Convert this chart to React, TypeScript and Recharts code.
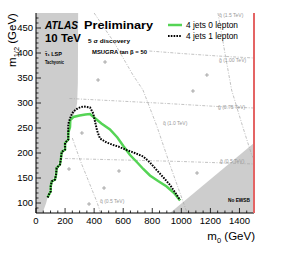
import React from 'react';
import { ComposedChart, Line, Area, Scatter, XAxis, YAxis } from 'recharts';

const FONT = "'Liberation Sans', Arial, Helvetica, sans-serif";

// Axis ranges and ticks
const X_DOMAIN = [0, 1500];
const Y_DOMAIN = [80, 480];
const X_TICKS = [0, 50, 100, 150, 200, 250, 300, 350, 400, 450, 500, 550, 600, 650, 700, 750, 800, 850, 900, 950, 1000, 1050, 1100, 1150, 1200, 1250, 1300, 1350, 1400, 1450];
const X_LABELS = [0, 200, 400, 600, 800, 1000, 1200, 1400];
const Y_TICKS = [90, 100, 110, 120, 130, 140, 150, 160, 170, 180, 190, 200, 210, 220, 230, 240, 250, 260, 270, 280, 290, 300, 310, 320, 330, 340, 350, 360, 370, 380, 390, 400, 410, 420, 430, 440, 450, 460, 470];
const Y_LABELS = [100, 150, 200, 250, 300, 350, 400, 450];

// 5 sigma discovery contours (m0, m1/2)
const jets0Lepton: [number, number][] = [
  [80, 111], [89, 117], [101, 123], [101, 133], [108, 143], [131, 147], [138, 157], [142, 170], [165, 177], [172, 190],
  [177, 202], [200, 207], [200, 220], [222, 227], [222, 240], [234, 252], [236, 266], [257, 272], [300, 275], [340, 277],
  [372, 278], [400, 271], [450, 259], [509, 247], [560, 231], [601, 214], [647, 196], [700, 180], [738, 168], [784, 155],
  [840, 144], [899, 133], [950, 120], [991, 105],
];
const jets1Lepton: [number, number][] = [
  [80, 111], [89, 117], [101, 123], [101, 133], [108, 143], [131, 147], [138, 157], [142, 170], [165, 177], [172, 190],
  [177, 202], [200, 207], [200, 220], [222, 227], [222, 240], [222, 258], [240, 274], [257, 283], [290, 290], [326, 293],
  [372, 291], [394, 279], [406, 263], [420, 245], [440, 229], [486, 221], [532, 216], [566, 213], [624, 206], [680, 200],
  [738, 193], [784, 181], [830, 166], [880, 150], [922, 136], [960, 120], [991, 106],
];

// excluded regions: [m0, lower m1/2, upper m1/2]
const tachyonicRegion: [number, number, number][] = [
  [0, 80, 480], [45, 80, 480], [70, 100, 480], [88, 120, 480], [95, 135, 480], [120, 148, 480], [133, 165, 480],
  [155, 180, 480], [168, 195, 480], [190, 210, 480], [212, 228, 480], [222, 250, 480], [232, 266, 480], [255, 275, 480],
  [272, 284, 480], [283, 300, 480], [288, 340, 480], [290, 480, 480],
];
const noEwsbRegion: [number, number, number][] = [
  [922, 80, 80], [1500, 80, 220],
];

// iso-mass contours
const squark15: [number, number][] = [[1252, 480], [1300, 400], [1346, 326], [1420, 255], [1484, 196], [1500, 188]];
const gluino100: [number, number][] = [[780, 404], [1000, 399], [1250, 394], [1500, 390]];
const gluino075: [number, number][] = [[230, 309], [500, 305], [900, 299], [1250, 293], [1500, 290]];
const gluino050: [number, number][] = [[200, 189], [600, 186], [1000, 183], [1300, 180], [1500, 178]];
const squark10: [number, number][] = [[400, 480], [540, 420], [667, 356], [736, 326], [830, 255], [922, 176], [1040, 80]];
const squark05: [number, number][] = [[250, 230], [303, 186], [360, 145], [418, 103], [445, 80]];

const scanPoints: [number, number][] = [
  [475, 382], [427, 346], [1176, 356], [1080, 324], [227, 168], [468, 130], [365, 98], [571, 164], [1108, 160], [316, 240],
];

const toXY = (a: [number, number][]) => a.map(([x, y]) => ({ x, y }));
const toRange = (a: [number, number, number][]) => a.map(([x, lo, hi]) => ({ x, r: [lo, hi] }));

const GREEN = '#55d455';
const GREY = '#a8a8a8';
const RED = '#e46464';
const SHADE = '#cdcdcd';

function BottomTick(props: any) {
  const { x, y, payload } = props;
  const v = payload.value;
  const major = X_LABELS.includes(v);
  return (
    <g>
      <line x1={x} y1={y} x2={x} y2={y - (major ? 5 : 2.5)} stroke="#000" strokeWidth={0.8} />
      {major && (
        <text x={x} y={y + 10.5} textAnchor="middle" fontSize={9.5} fontFamily={FONT} fill="#000">{v}</text>
      )}
    </g>
  );
}
function TopTick(props: any) {
  const { x, y, payload } = props;
  const major = X_LABELS.includes(payload.value);
  return <line x1={x} y1={y} x2={x} y2={y + (major ? 5 : 2.5)} stroke="#000" strokeWidth={0.8} />;
}
function LeftTick(props: any) {
  const { x, y, payload } = props;
  const v = payload.value;
  const major = Y_LABELS.includes(v);
  return (
    <g>
      <line x1={x} y1={y} x2={x + (major ? 5 : 2.5)} y2={y} stroke="#000" strokeWidth={0.8} />
      {major && (
        <text x={x - 3} y={y + 3.4} textAnchor="end" fontSize={9.5} fontFamily={FONT} fill="#000">{v}</text>
      )}
    </g>
  );
}
function RightTick(props: any) {
  const { x, y, payload } = props;
  const major = Y_LABELS.includes(payload.value);
  return <line x1={x - 1} y1={y} x2={x - 1 - (major ? 5 : 2.5)} y2={y} stroke="#000" strokeWidth={0.8} />;
}

function PlusShape(props: any) {
  const { cx, cy } = props;
  return (
    <g stroke="#8c8c8c" strokeWidth={0.7}>
      <line x1={cx - 2} y1={cy} x2={cx + 2} y2={cy} />
      <line x1={cx} y1={cy - 2} x2={cx} y2={cy + 2} />
    </g>
  );
}

function Overlay() {
  const small = { fontFamily: FONT, fontSize: 5.5, fontWeight: 700, fill: '#000' } as const;
  const grey = { fontFamily: FONT, fontSize: 5, fill: '#999' } as const;
  return (
    <svg width={300} height={255} style={{ position: 'absolute', left: 0, top: 0, pointerEvents: 'none' }}>
      <line x1={254} y1={13} x2={254} y2={213} stroke={RED} strokeWidth={2} />
      <text x={45} y={29.3} fontFamily={FONT} fontSize={10.5} fontWeight={700} fontStyle="italic" textLength={33} lengthAdjust="spacingAndGlyphs">ATLAS</text>
      <text x={84} y={29.3} fontFamily={FONT} fontSize={11} fontWeight={700} textLength={69} lengthAdjust="spacingAndGlyphs">Preliminary</text>
      <text x={45} y={42} fontFamily={FONT} fontSize={10.5} fontWeight={700} textLength={36} lengthAdjust="spacingAndGlyphs">10 TeV</text>
      <text x={88} y={42.5} {...small} textLength={42} lengthAdjust="spacingAndGlyphs">5 σ discovery</text>
      <text x={92} y={53.5} {...small} textLength={55} lengthAdjust="spacingAndGlyphs">MSUGRA tan β = 50</text>
      <text x={45} y={55.5} {...small}>τ̃₁ LSP</text>
      <text x={45} y={63.5} {...small} textLength={19} lengthAdjust="spacingAndGlyphs">Tachyonic</text>
      <text x={228} y={201.5} {...small} textLength={22} lengthAdjust="spacingAndGlyphs">No EWSB</text>

      <line x1={168} y1={25} x2={182} y2={25} stroke={GREEN} strokeWidth={2.5} />
      <text x={186} y={28.4} fontFamily={FONT} fontSize={9} fill="#000" textLength={52} lengthAdjust="spacingAndGlyphs">4 jets 0 lepton</text>
      <line x1={168} y1={36} x2={182} y2={36} stroke="#000" strokeWidth={2} strokeDasharray="1.6 1.2" />
      <text x={186} y={39.4} fontFamily={FONT} fontSize={9} fill="#000" textLength={52} lengthAdjust="spacingAndGlyphs">4 jets 1 lepton</text>

      <text x={219} y={16.5} {...grey}>q̃ (1.5 TeV)</text>
      <text x={219} y={62} {...grey}>g̃ (1.00 TeV)</text>
      <text x={218} y={108.5} {...grey}>g̃ (0.75 TeV)</text>
      <text x={163} y={125} {...grey}>q̃ (1.0 TeV)</text>
      <text x={100} y={203} {...grey}>q̃ (0.5 TeV)</text>
      <text x={220} y={163} {...grey}>g̃ (0.5 TeV)</text>

      <text x={255} y={240} textAnchor="end" fontFamily={FONT} fontSize={11.5} fill="#000">
        m<tspan fontSize={7.5} dy={3}>0</tspan><tspan dy={-3}> (GeV)</tspan>
      </text>
      <text x={16} y={40} textAnchor="middle" fontFamily={FONT} fontSize={11.5} fill="#000" transform="rotate(-90, 16, 40)">
        m<tspan fontSize={7.5} dy={3}>1/2</tspan><tspan dy={-3}> (GeV)</tspan>
      </text>
    </svg>
  );
}

const contourProps = { stroke: GREY, strokeWidth: 0.7, strokeDasharray: '3 1.5 1 1.5', dot: false, isAnimationActive: false } as const;

export default function App() {
  return (
    <div style={{ position: 'absolute', left: 0, top: 0, width: 300, height: 255, background: '#fff' }}>
      <div style={{ position: 'absolute', left: 0, top: 0 }}>
        <ComposedChart width={300} height={255} margin={{ top: 13, right: 46, bottom: 0, left: 0 }}>
          <XAxis dataKey="x" type="number" domain={X_DOMAIN} ticks={X_TICKS} interval={0} allowDataOverflow
            height={42} tickSize={0} tickMargin={0} tickLine={false} tick={<BottomTick />} stroke="#000" axisLine={{ stroke: '#000', strokeWidth: 1 }} />
          <XAxis xAxisId="top" orientation="top" dataKey="x" type="number" domain={X_DOMAIN} ticks={X_TICKS} interval={0} allowDataOverflow
            height={0} tickSize={0} tickMargin={0} tickLine={false} tick={<TopTick />} stroke="#000" axisLine={{ stroke: '#000', strokeWidth: 1 }} />
          <YAxis type="number" domain={Y_DOMAIN} ticks={Y_TICKS} interval={0} allowDataOverflow
            width={36} tickSize={0} tickMargin={0} tickLine={false} tick={<LeftTick />} stroke="#000" axisLine={{ stroke: '#000', strokeWidth: 1 }} />
          <YAxis yAxisId="right" orientation="right" type="number" domain={Y_DOMAIN} ticks={Y_TICKS} interval={0} allowDataOverflow
            width={0} tickSize={0} tickMargin={0} tickLine={false} tick={<RightTick />} stroke={RED} axisLine={false} />

          <Area data={toRange(tachyonicRegion)} dataKey="r" type="linear" stroke="none" fill={SHADE} fillOpacity={1} isAnimationActive={false} />
          <Area data={toRange(noEwsbRegion)} dataKey="r" type="linear" stroke="none" fill={SHADE} fillOpacity={1} isAnimationActive={false} />

          <Line data={toXY(squark15)} dataKey="y" {...contourProps} />
          <Line data={toXY(gluino100)} dataKey="y" {...contourProps} />
          <Line data={toXY(gluino075)} dataKey="y" {...contourProps} />
          <Line data={toXY(gluino050)} dataKey="y" {...contourProps} />
          <Line data={toXY(squark10)} dataKey="y" {...contourProps} />
          <Line data={toXY(squark05)} dataKey="y" {...contourProps} />

          <Scatter data={toXY(scanPoints)} dataKey="y" shape={<PlusShape />} isAnimationActive={false} />

          <Line data={toXY(jets0Lepton)} dataKey="y" stroke={GREEN} strokeWidth={2.5} dot={false} isAnimationActive={false} />
          <Line data={toXY(jets1Lepton)} dataKey="y" stroke="#000" strokeWidth={2} strokeDasharray="1.6 1.2" dot={false} isAnimationActive={false} />
        </ComposedChart>
      </div>
      <Overlay />
    </div>
  );
}
